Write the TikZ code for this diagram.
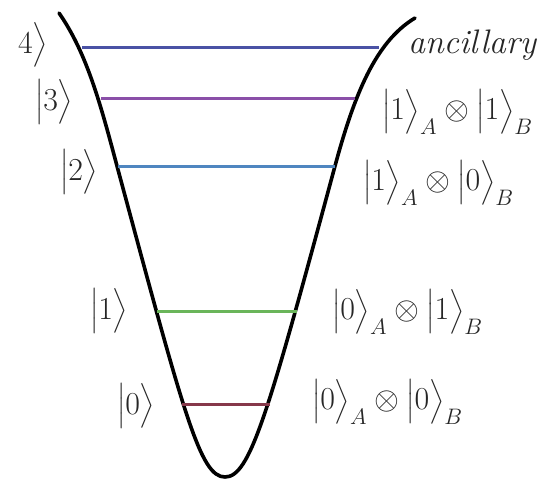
\RequirePackage{fix-cm}
\documentclass[tikz,border=0pt]{standalone}
\usepackage{amsmath}
\definecolor{cfour}{HTML}{4A52A5}
\definecolor{cthree}{HTML}{8A4FA8}
\definecolor{ctwo}{HTML}{4F86C0}
\definecolor{cone}{HTML}{6AB55A}
\definecolor{czero}{HTML}{86384A}
\tikzset{
  level/.style={line width=3pt},
  well/.style={line width=3.6pt, black, line cap=round, line join=round},
  lab/.style={inner sep=0pt, outer sep=0pt, anchor=west, text=black!85, font=\fontsize{32}{36}\selectfont},
  anc/.style={inner sep=0pt, outer sep=0pt, anchor=west, text=black!85, font=\fontsize{34}{38}\selectfont\itshape}
}
\newcommand{\ketx}[1]{\bigl|#1\bigr\rangle}
\begin{document}
\begin{tikzpicture}[x=1pt,y=-1pt]
\useasboundingbox (0,0) rectangle (547,479);
% potential well
\coordinate (wtl) at (59,13);
\coordinate (wl) at (117,166);
\coordinate (wb) at (225,477);
\coordinate (wr) at (335,166);
\coordinate (wtr) at (415,18);
\draw[well] (wtl) .. controls (87,53) and (101,106) .. (wl)
  .. controls (184.5,416) and (200,477) .. (wb)
  .. controls (250,477) and (267.5,416) .. (wr)
  .. controls (354,96) and (375,42) .. (wtr);
% levels
\coordinate (l4a) at (82,47);  \coordinate (l4b) at (379,47);
\coordinate (l3a) at (101,98); \coordinate (l3b) at (355,98);
\coordinate (l2a) at (118,166);\coordinate (l2b) at (335,166);
\coordinate (l1a) at (157,311);\coordinate (l1b) at (297,311);
\coordinate (l0a) at (182,404);\coordinate (l0b) at (270,404);
\draw[level, cfour] (l4a) -- (l4b);
\draw[level, cthree] (l3a) -- (l3b);
\draw[level, ctwo] (l2a) -- (l2b);
\draw[level, cone] (l1a) -- (l1b);
\draw[level, czero] (l0a) -- (l0b);
% left labels
\node[lab] (k4) at (18,45) {$4\bigr\rangle$};
\node[lab] (k3) at (35,102) {$\ketx{3}$};
\node[lab] (k2) at (60,172) {$\ketx{2}$};
\node[lab] (k1) at (90,311) {$\ketx{1}$};
\node[lab] (k0) at (117,406) {$\ketx{0}$};
% right labels
\node[anc] (anc) at (408,45) {ancillary};
\node[lab] (r3) at (382,112) {$\ketx{1}_{A}\otimes\ketx{1}_{B}$};
\node[lab] (r2) at (363,183) {$\ketx{1}_{A}\otimes\ketx{0}_{B}$};
\node[lab] (r1) at (332,312) {$\ketx{0}_{A}\otimes\ketx{1}_{B}$};
\node[lab] (r0) at (312,402) {$\ketx{0}_{A}\otimes\ketx{0}_{B}$};
\end{tikzpicture}
\end{document}
